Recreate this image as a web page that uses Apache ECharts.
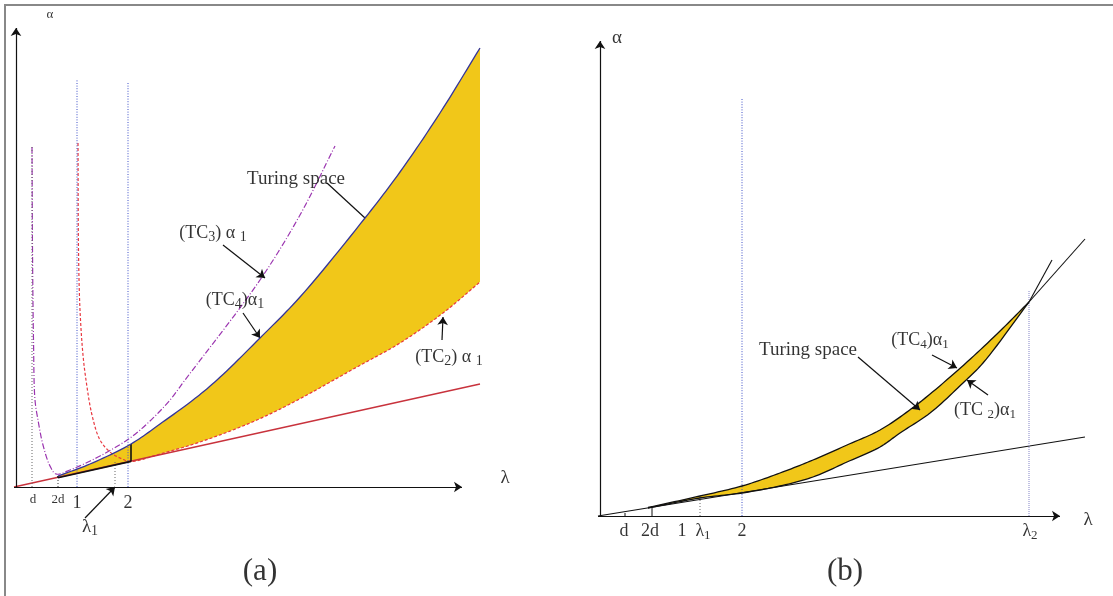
<!DOCTYPE html>
<html><head><meta charset="utf-8">
<script src="https://cdn.jsdelivr.net/npm/echarts@6/dist/echarts.min.js"></script>
<style>html,body{margin:0;padding:0;background:#fff}#c{width:1113px;height:596px}</style>
</head><body><div id="c"></div>
<script>
// ================= Panel (a) data: [λ, α] in drawing units =================
const aTC4 = [[4.2,1.1],[7.4,2.3],[11.5,4.3],[14.4,6.3],[17.7,8.7],[20.1,10.7],[24.4,14.9],[28.4,19.0],[34.9,26.9],[38.4,31.5],[42.4,37.4],[46.4,43.9]];
const aTC2 = [[6.2,34.4],[6.25,23.7],[6.4,17.7],[6.7,13.2],[7.0,10.7],[7.6,7.2],[8.4,4.7],[9.4,3.5],[10.4,2.9],[11.5,2.56],[14.4,3.3],[18.4,4.5],[23.4,6.4],[27.4,8.3],[34.1,12.0],[38.4,14.4],[42.7,17.4],[46.4,20.5]];
const aTC3 = [[1.6,34.0],[1.65,23.7],[1.75,14.7],[1.9,8.7],[2.2,6.7],[2.7,4.2],[3.4,2.1],[4.0,1.3],[5.4,1.7],[8.4,3.1],[11.4,4.9],[13.4,6.6],[15.4,8.7],[16.9,10.7],[24.4,20.7],[28.4,27.2],[31.9,34.1]];
const aBase = [[-0.2,0],[46.4,10.3]];
const aSmallBase = [[4.2,0.93],[11.5,2.56]];
const aTickLabels = ['d','2d','1','2'];
const aTickPos = [1.7,4.2,6.1,11.2];
const aLambda1 = 9.9;
// ================= Panel (b) data =================
const bTC4 = [[4.8,0.85],[10.0,2.0],[14.2,3.0],[18.0,4.3],[21.3,5.6],[24.7,7.1],[28.0,8.6],[31.5,11.0],[35.7,14.5],[39.7,18.2],[42.9,21.4]];
const bTC4ext = [[42.9,21.4],[48.5,27.7]];
const bTC2 = [[4.8,0.8],[10.0,1.8],[14.2,2.3],[18.0,3.0],[21.3,3.9],[24.7,5.4],[28.0,6.9],[30.0,8.3],[33.0,10.3],[36.3,13.3],[38.3,15.3],[42.9,21.4]];
const bTC2ext = [[42.9,21.4],[45.2,25.6]];
const bBase = [[-0.2,0],[48.5,7.9]];
const bTickLabels = ['d','2d','1','λ1','2','λ2'];
const bTickPos = [2.4,5.0,8.2,10.3,14.2,43.0];

const SERIF = '"Liberation Serif","DejaVu Serif",serif';
const YEL = '#f1c719';
const NS = 12; // render-time spline samples per segment

// centripetal Catmull-Rom drawing spline through pixel points
function spline(P){
  if(P.length<3) return P.slice();
  const out=[];
  function d(a,b){ return Math.max(1e-4, Math.pow(Math.hypot(b[0]-a[0], b[1]-a[1]), 0.5)); }
  for(let i=0;i<P.length-1;i++){
    const p1=P[i], p2=P[i+1];
    const p0=P[i-1]||[2*p1[0]-p2[0], 2*p1[1]-p2[1]];
    const p3=P[i+2]||[2*p2[0]-p1[0], 2*p2[1]-p1[1]];
    const t0=0, t1=t0+d(p0,p1), t2=t1+d(p1,p2), t3=t2+d(p2,p3);
    for(let k=0;k<NS;k++){
      const t=t1+(t2-t1)*k/NS;
      const L=function(a,b,ta,tb){ return [ (tb-t)/(tb-ta)*a[0]+(t-ta)/(tb-ta)*b[0], (tb-t)/(tb-ta)*a[1]+(t-ta)/(tb-ta)*b[1] ]; };
      const A1=L(p0,p1,t0,t1), A2=L(p1,p2,t1,t2), A3=L(p2,p3,t2,t3);
      const B1=L(A1,A2,t0,t2), B2=L(A2,A3,t1,t3);
      out.push(L(B1,B2,t1,t2));
    }
  }
  out.push(P[P.length-1]);
  return out;
}
function seg(x, y0, y1){ return [[x,y0],[x,y1]]; }
function rich(size, sub){
  return {m:{fontSize:size,fontFamily:SERIF,color:'#000',lineHeight:size+4},
          s:{fontSize:sub,fontFamily:SERIF,color:'#000',lineHeight:sub,verticalAlign:'bottom'}};
}
function txt(pos, fmt, size, sub){
  return {value:pos, label:{show:true, position:'inside', formatter:fmt, rich:rich(size, sub||Math.round(size*0.7))}};
}
function fmtTick(t){ return t.length===2 && t[0]==='λ' ? '{m|λ}{s|'+t[1]+'}' : '{m|'+t+'}'; }
function lineS(g, data, color, width, type, z){
  return {type:'line', xAxisIndex:g, yAxisIndex:g, data:data, showSymbol:false, symbol:'none', silent:true,
          lineStyle:{color:color, width:width, type:type||'solid'}, z:z||3, clip:false};
}
function curve(g, pts, color, width, dash, z){
  return {type:'custom', xAxisIndex:g, yAxisIndex:g, data:pts, z:z||3, clip:false, silent:true,
    renderItem:function(p, api){
      if(p.dataIndex!==0) return null;
      return {type:'polyline', shape:{points:spline(pts.map(function(q){return api.coord(q);}))},
              style:{stroke:color, lineWidth:width, lineDash:dash||null, fill:null}};
    }};
}
// band between an upper curve and (part of) a lower curve, plus closing points
function band(g, upper, lower, lowerFrom, closing){
  return {type:'custom', xAxisIndex:g, yAxisIndex:g, data:upper, z:1, clip:false, silent:true,
    renderItem:function(p, api){
      if(p.dataIndex!==0) return null;
      const c=function(q){return api.coord(q);};
      const up=spline(upper.map(c));
      const lo=spline(lower.map(c)).slice(lowerFrom*NS).reverse();
      return {type:'polygon', shape:{points:up.concat(lo).concat(closing.map(c))}, style:{fill:YEL}};
    }};
}
function arrow(a, b, head){
  return [{coord:a, symbol:'none'},{coord:b, symbol: head===false?'none':'arrow'}];
}

// ---------- Panel (a) series ----------
const series = [];
series.push(band(0, aTC4, aTC2, 9, [aSmallBase[0]]));
series.push(lineS(0, aBase, '#c8323c', 1.3));
series.push(lineS(0, seg(1.6,0,34.0), '#666', 1, [1,2]));
series.push(lineS(0, seg(aTickPos[1],0,0.93), '#333', 1, [1,2]));
series.push(lineS(0, seg(aTickPos[2],0,40.7), '#3f51c8', 1, [1,1.6]));
series.push(lineS(0, seg(aTickPos[3],0,40.4), '#3f51c8', 1, [1,1.6]));
series.push(lineS(0, seg(aLambda1,0.3,2.5), '#666', 1, [1,2]));
series.push(lineS(0, aSmallBase, '#111', 1.6, 'solid', 4));
series.push(lineS(0, seg(4.2,0.93,1.1), '#111', 1.6, 'solid', 4));
series.push(lineS(0, seg(11.5,2.56,4.3), '#111', 1.6, 'solid', 4));
series.push(curve(0, aTC3, '#9b35b0', 1.2, [6,2,1,2]));
series.push(curve(0, aTC2, '#e8373f', 1.2, [3,2]));
series.push(curve(0, aTC4, '#34359a', 1.3, null, 5));

const aLabels = [
  txt([28.0,30.8], '{m|Turing space}', 19),
  txt([19.7,25.4], '{m|(TC}{s|3}{m|) α }{s|1}', 18, 14),
  txt([21.9,18.7], '{m|(TC}{s|4}{m|)α}{s|1}', 18, 14),
  txt([43.3,13.0], '{m|(TC}{s|2}{m|) α }{s|1}', 18, 14),
  txt([7.4,-4.0], '{m|λ}{s|1}', 19, 14),
  txt([24.4,-8.5], '{m|(a)}', 31),
  txt([3.4,47.2], '{m|α}', 13),
  txt([48.9,0.9], '{m|λ}', 19)
];
aTickLabels.forEach(function(t,i){
  const small = t.indexOf('d')>=0;
  aLabels.push(txt([aTickPos[i], small?-1.3:-1.6], fmtTick(t), small?13:18));
});
series.push({type:'scatter', xAxisIndex:0, yAxisIndex:0, symbolSize:0, data:aLabels, silent:true, z:6, clip:false,
  markLine:{silent:true, animation:false, symbolSize:8, label:{show:false}, lineStyle:{color:'#111', width:1.2, type:'solid'},
    emphasis:{disabled:true},
    data:[
      arrow([-0.2,0],[44.6,0]),
      arrow([0,0],[0,45.9]),
      arrow([31.1,30.4],[34.9,26.9], false),
      arrow([20.7,24.2],[24.9,20.9]),
      arrow([22.7,17.4],[24.4,14.9]),
      arrow([42.6,14.7],[42.7,17.0]),
      arrow([6.9,-3.1],[9.9,0])
    ]}});

// ---------- Panel (b) series ----------
series.push(band(1, bTC4, bTC2, 0, []));
series.push(lineS(1, bBase, '#111', 1.2));
series.push(lineS(1, seg(bTickPos[4],0,41.8), '#3f51c8', 1, [1,1.6]));
series.push(lineS(1, seg(bTickPos[5]-0.1,0,22.6), '#9a9ad0', 1.2, [1,1]));
series.push(lineS(1, seg(bTickPos[3]-0.3,0,2.0), '#666', 1, [1,2]));
series.push(lineS(1, seg(5.2,0,1.0), '#111', 1));
series.push(lineS(1, seg(2.5,0,0.3), '#111', 1));
series.push(curve(1, bTC2, '#111', 1.3, null, 4));
series.push(curve(1, bTC4, '#111', 1.3, null, 4));
series.push(lineS(1, bTC4ext, '#111', 1.1, 'solid', 4));
series.push(lineS(1, bTC2ext, '#111', 1.1, 'solid', 4));

const bLabels = [
  txt([20.8,16.6], '{m|Turing space}', 19),
  txt([32.0,17.6], '{m|(TC}{s|4}{m|)α}{s|1}', 18, 13),
  txt([38.5,10.6], '{m|(TC }{s|2}{m|)α}{s|1}', 18, 13),
  txt([24.5,-5.6], '{m|(b)}', 31),
  txt([1.7,47.8], '{m|α}', 19),
  txt([48.8,-0.4], '{m|λ}', 19)
];
bTickLabels.forEach(function(t,i){
  bLabels.push(txt([bTickPos[i], -1.5], fmtTick(t), 18, 13));
});
series.push({type:'scatter', xAxisIndex:1, yAxisIndex:1, symbolSize:0, data:bLabels, silent:true, z:6, clip:false,
  markLine:{silent:true, animation:false, symbolSize:8, label:{show:false}, lineStyle:{color:'#111', width:1.2, type:'solid'},
    emphasis:{disabled:true},
    data:[
      arrow([-0.2,0],[46.0,0]),
      arrow([0,0],[0,47.5]),
      arrow([25.8,15.9],[32.0,10.6]),
      arrow([33.2,16.1],[35.7,14.8]),
      arrow([38.8,12.1],[36.7,13.6])
    ]}});

const chart = echarts.init(document.getElementById('c'));
chart.setOption({
  animation:false,
  backgroundColor:'#fff',
  grid:[
    {left:6, top:7, width:530, height:580},
    {left:590, top:26, width:520, height:570}
  ],
  xAxis:[
    {type:'value', gridIndex:0, min:-1, max:52, show:false},
    {type:'value', gridIndex:1, min:-1, max:51, show:false}
  ],
  yAxis:[
    {type:'value', gridIndex:0, min:-10, max:48, show:false},
    {type:'value', gridIndex:1, min:-8, max:49, show:false}
  ],
  graphic:[{type:'polyline', shape:{points:[[5,596],[5,5],[1113,5]]}, style:{stroke:'#888', lineWidth:2, fill:null}, silent:true}],
  series:series
});
</script></body></html>
